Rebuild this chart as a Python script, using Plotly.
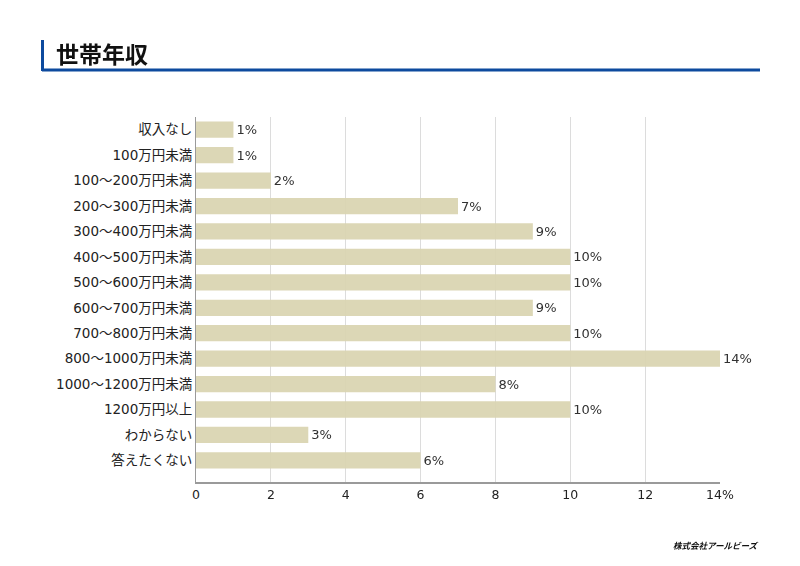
import plotly.graph_objects as go

categories = ["収入なし", "100万円未満", "100～200万円未満", "200～300万円未満", "300～400万円未満",
              "400～500万円未満", "500～600万円未満", "600～700万円未満", "700～800万円未満",
              "800～1000万円未満", "1000～1200万円未満", "1200万円以上", "わからない", "答えたくない"]
values = [1, 1, 2, 7, 9, 10, 10, 9, 10, 14, 8, 10, 3, 6]
tick_vals = [0, 2, 4, 6, 8, 10, 12, 14]
tick_text = ["0", "2", "4", "6", "8", "10", "12", "14%"]

W, H = 800, 566
L, R, T, B = 196, 720, 117, 482
FONT = "DejaVu Sans, Noto Sans CJK JP"
CJK = "Noto Sans CJK JP"

def px(x):
    return (x - L) / (R - L)

def py(y):
    return (B - y) / (B - T)

fig = go.Figure(go.Bar(
    x=values, y=categories, orientation="h",
    marker=dict(color="#dad4b1", line=dict(width=0)),
    opacity=0.93,
    text=[f"{v}%" for v in values], textposition="outside",
    constraintext="none",
    textfont=dict(size=13, color="#222222", family=FONT),
    cliponaxis=False,
))

fig.update_layout(
    width=W, height=H,
    margin=dict(l=L, r=W - R, t=T, b=H - B),
    paper_bgcolor="white", plot_bgcolor="white",
    font=dict(family=FONT, size=13, color="#222222"),
    bargap=0.36,
    showlegend=False,
    xaxis=dict(range=[0, 14], tickvals=tick_vals, ticktext=tick_text,
               showgrid=True, gridcolor="#dcdcdc", gridwidth=1,
               zeroline=False, showline=True, linecolor="#9a9a9a", linewidth=2,
               ticks="", tickfont=dict(size=12.5, color="#222222", family=FONT)),
    yaxis=dict(range=[13.85, -0.5], showgrid=False, zeroline=False,
               showline=True, linecolor="#9a9a9a", linewidth=1,
               ticks="", ticklen=0, tickfont=dict(size=13.5, color="#222222", family=FONT)),
    shapes=[
        dict(type="line", xref="paper", yref="paper", x0=px(42), x1=px(760), y0=py(70), y1=py(70),
             line=dict(color="#0d4a9e", width=3)),
        dict(type="line", xref="paper", yref="paper", x0=px(42.5), x1=px(42.5), y0=py(40), y1=py(71),
             line=dict(color="#0d4a9e", width=3)),
    ],
    annotations=[
        dict(text="<b>世帯年収</b>", xref="paper", yref="paper", x=px(54), y=py(53),
             xanchor="left", yanchor="middle", showarrow=False,
             font=dict(size=23, color="#111111", family=CJK)),
        dict(text="<b><i>株式会社アールビーズ</i></b>", xref="paper", yref="paper", x=px(761), y=py(545),
             xanchor="right", yanchor="middle", showarrow=False,
             font=dict(size=8.5, color="#111111", family=CJK)),
    ],
)

fig.write_html("out.html")
